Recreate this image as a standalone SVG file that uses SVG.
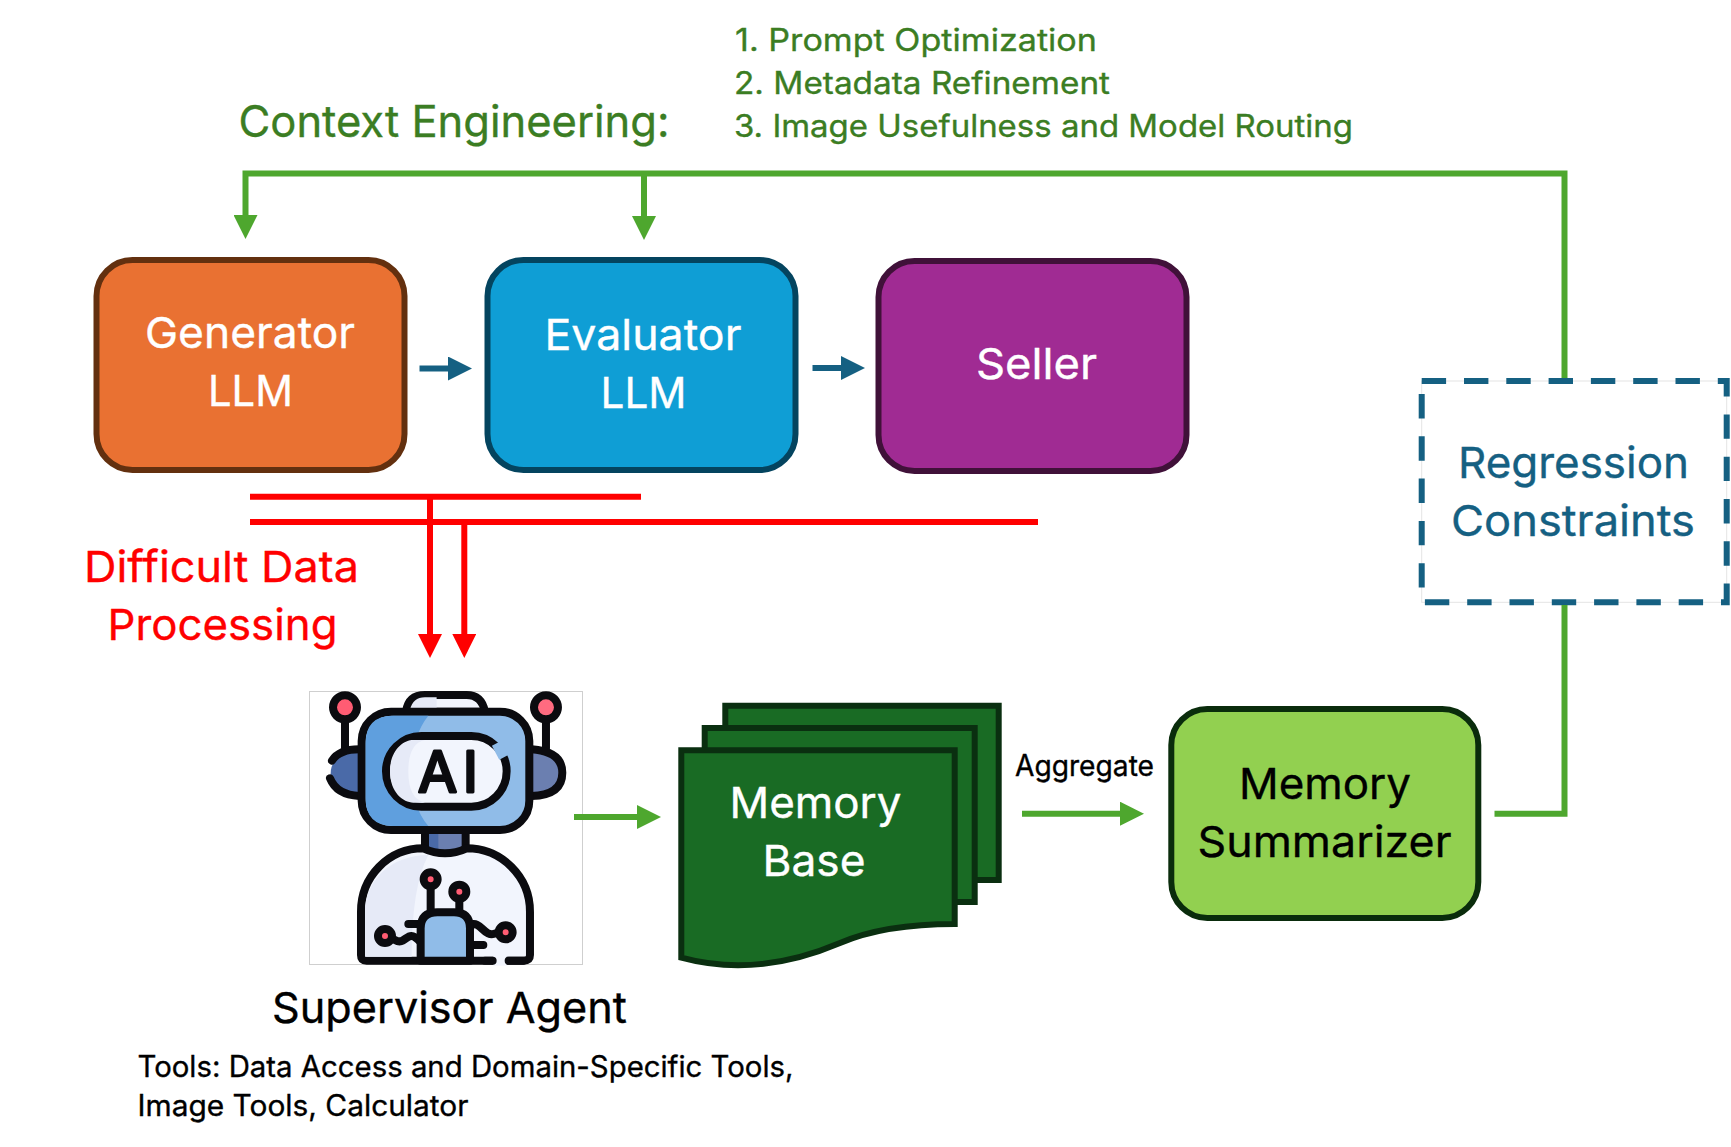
<svg xmlns="http://www.w3.org/2000/svg" width="1731" height="1147" viewBox="0 0 1731 1147">
  <style>
    text { font-family: "Inter", "Noto Sans", "Liberation Sans", sans-serif; font-weight: 400; stroke-width: 0.35px; }
    .box { stroke-width: 6; }
    .label { font-size: 43px; }
    .small { font-size: 29.500px; }
    .list { font-size: 31px; fill: #3B7D23; stroke: #3B7D23; }
    .white { fill: #FFFFFF; stroke: #FFFFFF; }
    .black { fill: #000000; stroke: #000000; }
    .sea { fill: #156082; stroke: #156082; }
    .alert { fill: #FF0000; stroke: #FF0000; }
    .sheet { fill: #196B24; stroke: #0A2F10; stroke-width: 6; }
    .wire { fill: none; stroke-width: 6; }
    .green { stroke: #4EA72E; }
    .teal { stroke: #156082; }
    .red { stroke: #FF0000; }
    .ink { fill: none; stroke: #0B0B0F; stroke-width: 24; stroke-linecap: round; stroke-linejoin: round; }
    .outlined { stroke: #0B0B0F; stroke-width: 24; stroke-linecap: round; stroke-linejoin: round; }
  </style>
  <defs>
    <marker id="head-green" markerUnits="userSpaceOnUse" markerWidth="24" markerHeight="24" refX="1" refY="12" orient="auto"><path d="M0 0L24 12L0 24Z" fill="#4EA72E"/></marker>
    <marker id="head-teal" markerUnits="userSpaceOnUse" markerWidth="24" markerHeight="24" refX="1" refY="12" orient="auto"><path d="M0 0L24 12L0 24Z" fill="#156082"/></marker>
    <marker id="head-red" markerUnits="userSpaceOnUse" markerWidth="24" markerHeight="24" refX="1" refY="12" orient="auto"><path d="M0 0L24 12L0 24Z" fill="#FF0000"/></marker>
  </defs>

  <rect width="1731" height="1147" fill="#FFFFFF"/>

  <g id="context-engineering">
    <text x="238.500" y="136.500" font-size="44" fill="#3B7D23" stroke="#3B7D23" textLength="431" lengthAdjust="spacingAndGlyphs">Context Engineering:</text>
    <text class="list" x="735" y="50.500" textLength="362" lengthAdjust="spacingAndGlyphs">1. Prompt Optimization</text>
    <text class="list" x="734" y="94" textLength="376" lengthAdjust="spacingAndGlyphs">2. Metadata Refinement</text>
    <text class="list" x="734" y="137" textLength="619" lengthAdjust="spacingAndGlyphs">3. Image Usefulness and Model Routing</text>
  </g>

  <g id="generator">
    <rect class="box" x="96.500" y="260" width="308" height="210" rx="36" fill="#E97132" stroke="#63300F"/>
    <text class="label white" x="145" y="348" textLength="210" lengthAdjust="spacingAndGlyphs">Generator</text>
    <text class="label white" x="208" y="406" textLength="85" lengthAdjust="spacingAndGlyphs">LLM</text>
  </g>

  <g id="evaluator">
    <rect class="box" x="487.500" y="260" width="308" height="210" rx="36" fill="#0F9ED5" stroke="#04445F"/>
    <text class="label white" x="544.500" y="350" textLength="197" lengthAdjust="spacingAndGlyphs">Evaluator</text>
    <text class="label white" x="600.500" y="408" textLength="86" lengthAdjust="spacingAndGlyphs">LLM</text>
  </g>

  <g id="seller">
    <rect class="box" x="878.500" y="261" width="308" height="210" rx="36" fill="#A02B93" stroke="#401139"/>
    <text class="label white" x="976" y="378.500" textLength="121" lengthAdjust="spacingAndGlyphs">Seller</text>
  </g>

  <g id="regression-constraints">
    <rect x="1421.700" y="381" width="305" height="221.300" fill="#FFFFFF" stroke="#E4E4E4" stroke-width="1"/>
    <rect class="box" x="1421.700" y="381" width="305" height="221.300" fill="none" stroke="#156082" stroke-dasharray="24.400 17.900"/>
    <text class="label sea" x="1458" y="478" textLength="231" lengthAdjust="spacingAndGlyphs">Regression</text>
    <text class="label sea" x="1451" y="536" textLength="244" lengthAdjust="spacingAndGlyphs">Constraints</text>
  </g>

  <g id="difficult-data">
    <text class="label alert" x="84" y="581.500" textLength="275" lengthAdjust="spacingAndGlyphs">Difficult Data</text>
    <text class="label alert" x="107.500" y="640" textLength="230" lengthAdjust="spacingAndGlyphs">Processing</text>
  </g>

  <g id="supervisor-agent">
    <rect x="309.500" y="691.500" width="273" height="273" fill="#FFFFFF" stroke="#CFCFCF" stroke-width="1"/>
    <!-- robot icon, drawn on a 3x grid -->
    <g transform="translate(300 680) scale(0.3333)">
      <path class="ink" d="M135 125V205M738 125V205"/>
      <circle class="outlined" cx="135" cy="82" r="36" fill="#FF5C73"/>
      <circle class="outlined" cx="738" cy="82" r="36" fill="#FF6B80"/>
      <path d="M178 212Q92 222 92 280Q92 340 178 345Z" fill="#4A6AA8"/>
      <path d="M695 212Q785 222 785 278Q785 340 695 345Z" fill="#6B7FB0"/>
      <path class="ink" d="M178 208Q118 208 96 242M90 295Q110 345 178 348"/>
      <path class="ink" d="M695 208Q787 215 787 278Q787 345 695 348"/>
      <path class="outlined" d="M318 95Q325 45 375 45H500Q545 45 555 95Z" fill="#F2F5FD"/>
      <path d="M330 90Q338 52 375 52H410V90Z" fill="#E6EAF7"/>
      <rect x="375" y="450" width="122" height="70" fill="#6B7FB0"/>
      <rect x="375" y="450" width="40" height="70" fill="#4A6AA8"/>
      <path class="ink" d="M375 455V515M497 455V515"/>
      <path class="outlined" d="M183 825V695C183 590 265 505 370 505Q435 535 500 505C605 505 690 590 690 695V825Q690 842 670 842H200Q183 842 183 825Z" fill="#F2F5FD"/>
      <path d="M195 830V695C195 605 270 525 385 525Q335 620 335 830Z" fill="#E6EAF7"/>
      <path d="M580 842H620" stroke="#F2F5FD" stroke-width="30" fill="none"/>
      <path class="ink" d="M555 842H578M626 842H670"/>
      <rect class="outlined" x="185" y="95" width="503" height="355" rx="88" fill="#90BCE8"/>
      <path d="M197 190Q197 107 280 107H385Q335 170 335 275Q335 380 385 438H280Q197 438 197 355Z" fill="#5F9FDE"/>
      <rect class="outlined" x="258" y="168" width="362" height="212" rx="106" fill="#F2F5FD"/>
      <path d="M270 274C270 210 310 180 340 180H375Q325 190 325 274Q325 358 375 368H340C310 368 270 338 270 274Z" fill="#E6EAF7"/>
      <path d="M590 190L612 232" stroke="#90BCE8" stroke-width="32" fill="none"/>
      <text x="354" y="337" font-size="170" fill="#0B0B0F" stroke="#0B0B0F" style="stroke-width:9px" stroke-linejoin="round" textLength="180" lengthAdjust="spacing">AI</text>
      <path class="ink" d="M392 625V695M478 660V700"/>
      <path class="ink" d="M285 780C320 800 320 740 360 785M588 760C550 775 545 720 510 735"/>
      <path class="ink" d="M325 732H360M510 795H550"/>
      <path class="outlined" d="M362 842V745Q362 697 412 697H462Q510 697 510 745V842Z" fill="#90BCE8"/>
      <circle class="outlined" cx="392" cy="598" r="21" fill="#FF5C73"/>
      <circle class="outlined" cx="478" cy="635" r="21" fill="#FF5C73"/>
      <circle class="outlined" cx="255" cy="768" r="21" fill="#FF5C73"/>
      <circle class="outlined" cx="617" cy="757" r="21" fill="#FF5C73"/>
    </g>
    <text class="label black" x="272" y="1022.500" textLength="355" lengthAdjust="spacingAndGlyphs">Supervisor Agent</text>
    <text class="small black" x="137.500" y="1076.500" textLength="656" lengthAdjust="spacingAndGlyphs">Tools: Data Access and Domain-Specific Tools,</text>
    <text class="small black" x="137.500" y="1115.500" textLength="331" lengthAdjust="spacingAndGlyphs">Image Tools, Calculator</text>
  </g>

  <g id="memory-base">
    <path class="sheet" d="M725.300 705.700H998.700V880H725.300Z"/>
    <path class="sheet" d="M704.700 728H974.700V902H704.700Z"/>
    <path class="sheet" d="M681.300 750.300H954.700V924C915 924 875 928 840 943C800 960 745 975 681.300 957.700Z"/>
    <text class="label white" x="729.500" y="818" textLength="172" lengthAdjust="spacingAndGlyphs">Memory</text>
    <text class="label white" x="762.500" y="876" textLength="103" lengthAdjust="spacingAndGlyphs">Base</text>
  </g>

  <text id="aggregate-label" class="small black" x="1015" y="776" textLength="139" lengthAdjust="spacingAndGlyphs">Aggregate</text>

  <g id="memory-summarizer">
    <rect class="box" x="1171.300" y="709" width="307" height="209" rx="36" fill="#92D050" stroke="#0A2C0C"/>
    <text class="label black" x="1239" y="798.500" textLength="172" lengthAdjust="spacingAndGlyphs">Memory</text>
    <text class="label black" x="1197.500" y="856.500" textLength="254" lengthAdjust="spacingAndGlyphs">Summarizer</text>
  </g>

  <g id="connectors">
    <path class="wire green" d="M1564.500 378V173.500H245.500V216" marker-end="url(#head-green)"/>
    <path class="wire green" d="M644 173.500V217" marker-end="url(#head-green)"/>
    <path class="wire teal" d="M419.500 368.500H449" marker-end="url(#head-teal)"/>
    <path class="wire teal" d="M812.500 368H842" marker-end="url(#head-teal)"/>
    <path class="wire red" d="M250 496.700H641"/>
    <path class="wire red" d="M250 522H1038"/>
    <path class="wire red" d="M430 496.700V635" marker-end="url(#head-red)"/>
    <path class="wire red" d="M464.300 522V635" marker-end="url(#head-red)"/>
    <path class="wire green" d="M574 817H638" marker-end="url(#head-green)"/>
    <path class="wire green" d="M1022 813.700H1121" marker-end="url(#head-green)"/>
    <path class="wire green" d="M1494.500 813.700H1564.500V605"/>
  </g>
</svg>
